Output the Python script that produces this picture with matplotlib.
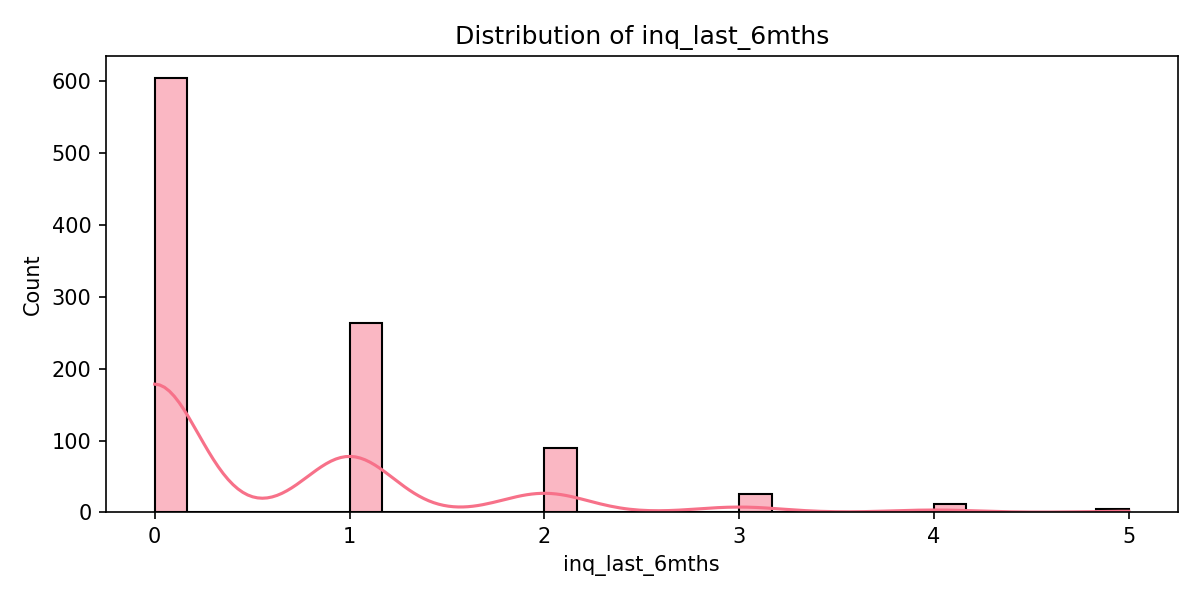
import numpy as np
import matplotlib
matplotlib.use("Agg")
import matplotlib.pyplot as plt
import seaborn as sns

# counts of each inquiry value
inq_values = [0, 1, 2, 3, 4, 5]
inq_counts = [605, 264, 90, 25, 11, 5]

line_color = sns.color_palette("husl", 8)[0]

# rebuild the raw column from the counts
inq_last_6mths = np.repeat(inq_values, inq_counts)

plt.figure(figsize=(8, 4))
sns.histplot(inq_last_6mths, bins=30, kde=True, color=line_color,
             edgecolor="black")
plt.title("Distribution of inq_last_6mths")
plt.xlabel("inq_last_6mths")
plt.ylabel("Count")
plt.tight_layout()
plt.savefig("out.png", dpi=150)
plt.close()
